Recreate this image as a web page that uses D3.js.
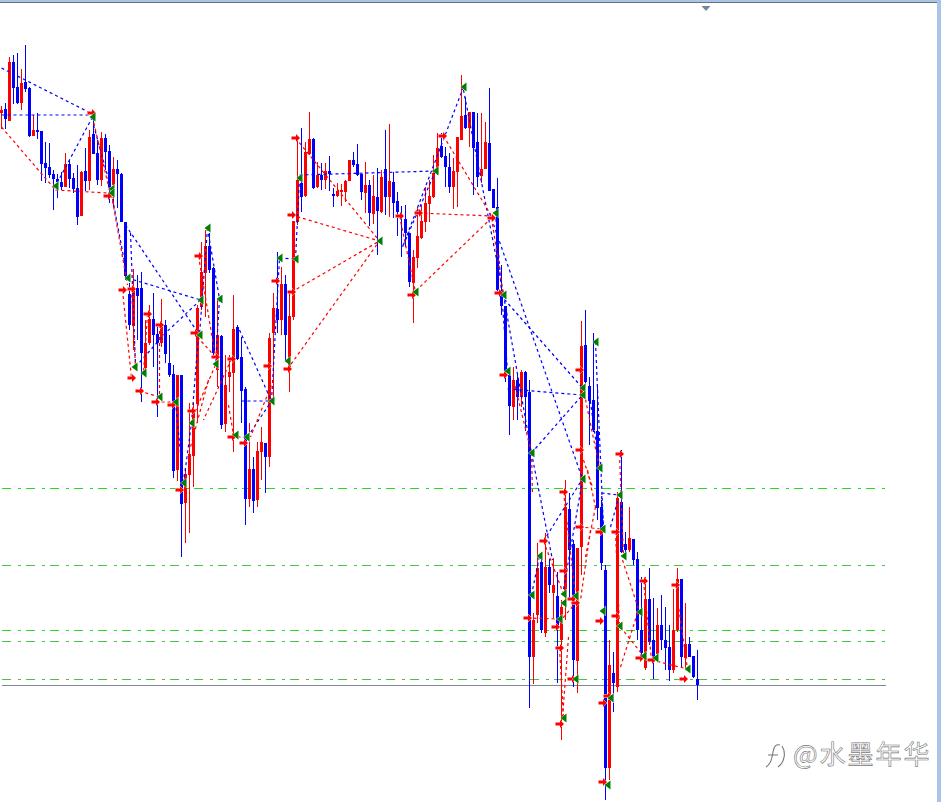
<!DOCTYPE html>
<html><head><meta charset="utf-8">
<script src="https://cdn.jsdelivr.net/npm/d3@7/dist/d3.min.js"></script>
<style>html,body{margin:0;padding:0;background:#fff;overflow:hidden}svg{display:block}</style>
</head><body><svg id="c" width="941" height="802"></svg>
<script>
// Bars: one bar every 4 time units, from time 0
const opens=[687,691,679,738,713,697,718,712,664,670,669,637,633,626,621,618,613,636,622,612,584,629,619,666,647,620,662,649,615,631,626,578,506,474,512,512,432,457,481,466,457,475,437,426,330,425,297,325,344,396,493,527,554,532,430,464,376,423,427,473,443,411,301,331,300,348,357,343,467,491,480,516,433,483,578,617,604,646,661,613,625,620,629,606,604,608,608,619,640,636,626,607,615,586,603,588,631,603,618,599,585,581,567,517,542,562,578,596,603,626,654,644,633,613,628,660,685,672,688,658,624,631,657,611,593,507,494,425,393,420,403,428,408,143,185,238,167,233,207,204,160,203,291,256,139,253,455,414,400,369,293,230,32,127,113,298,256,250,261,241,170,132,201,160,146,175,160,153,130,170,221,142,156,144,121];
const closes=[690,681,738,712,697,717,711,664,670,668,636,632,625,621,618,613,636,621,611,583,628,619,663,646,620,662,648,613,631,626,578,524,475,509,504,447,457,481,465,457,473,446,425,329,425,296,326,346,390,492,528,554,530,447,465,375,415,428,471,441,409,301,331,299,349,358,343,462,492,480,516,465,484,579,620,603,648,661,612,625,620,629,626,604,609,610,619,640,635,625,608,615,587,604,589,623,603,619,597,588,583,567,518,543,564,579,597,604,627,652,643,633,613,629,663,684,672,688,652,623,631,658,609,592,510,494,427,394,420,403,428,403,143,180,232,170,233,215,215,173,193,293,250,140,252,454,418,399,370,292,237,32,135,117,302,248,250,262,240,170,147,201,158,143,175,160,152,130,170,221,143,156,143,123,115];
const highs=[694,697,743,745,747,731,755,713,685,687,669,658,657,630,626,628,647,640,627,635,629,652,670,682,660,668,666,655,643,640,627,578,517,531,525,528,480,495,507,473,501,480,465,435,425,425,332,397,397,495,558,570,567,533,500,465,445,445,505,475,463,413,377,343,358,373,357,467,507,548,533,525,509,579,660,672,658,688,662,638,637,637,644,612,617,616,620,640,648,656,626,638,620,625,632,630,670,676,628,608,594,595,567,550,593,595,613,620,645,667,667,653,647,642,663,725,703,688,688,687,687,678,712,611,622,535,494,427,433,427,430,429,420,187,257,248,267,241,242,228,200,320,307,260,252,479,490,423,467,413,300,235,160,148,308,350,268,293,261,248,223,223,232,202,192,205,193,175,211,232,221,197,163,144,150];
const lows=[671,671,679,696,696,690,708,663,664,661,619,617,622,590,602,610,613,612,607,575,584,609,610,646,615,614,630,597,593,592,578,520,470,450,460,398,423,455,433,383,453,437,423,322,319,243,257,267,313,377,490,483,527,445,413,371,368,408,348,440,377,275,293,287,293,320,307,333,403,467,465,440,408,480,575,588,603,645,611,612,610,611,609,593,603,594,598,619,633,624,600,587,574,576,545,587,585,583,582,564,543,553,513,477,532,561,568,578,602,625,642,613,607,591,593,660,671,653,605,613,617,631,609,592,508,485,418,365,380,380,393,369,92,116,177,167,163,207,182,117,60,180,200,113,107,225,415,355,368,280,230,0,20,88,108,247,248,248,235,160,145,130,155,121,140,150,130,119,127,168,133,132,143,122,100];
// Reference levels
const brightLevels=[312,170];
const dullLevels=[235,159,121];
const baseLevel=115;
const levelSpan=[0,884];
// Trade markers: [time, price]
const redMarks=[[90,687],[106,604],[121,510],[130,511],[130,422],[138,409],[154,398],[170,395],[146,486],[158,475],[197,544],[193,467],[214,443],[230,441],[190,389],[266,434],[274,519],[286,431],[178,310],[230,363],[242,357],[294,662],[290,585],[290,508],[398,584],[418,587],[410,505],[441,664],[490,582],[497,507],[502,425],[578,430],[578,350],[618,346],[562,308],[542,259],[562,229],[578,273],[598,268],[614,268],[570,201],[574,197],[526,182],[554,173],[598,179],[614,184],[558,152],[570,121],[558,76],[606,104],[602,97],[602,18],[642,219],[674,215],[638,142],[650,140],[682,121]];
const greenMarks=[[54,614],[91,683],[110,611],[110,607],[126,522],[134,433],[142,427],[158,403],[174,398],[206,572],[199,500],[218,501],[198,465],[214,436],[270,399],[278,542],[286,439],[190,377],[182,317],[234,365],[246,363],[294,541],[298,622],[378,559],[414,508],[462,713],[434,629],[494,587],[502,505],[506,429],[581,412],[581,405],[594,458],[530,347],[581,321],[598,332],[538,244],[602,271],[618,305],[622,244],[530,205],[562,206],[562,197],[574,204],[558,181],[602,189],[618,174],[574,121],[562,82],[610,102],[606,15],[638,188],[642,144],[654,142],[686,131]];
// Trade links: [t1,p1,t2,p2]
const blueLinks=[[0,732,89,687],[0,685,89,685],[91,683,54,614],[92,675,110,610],[110,607,126,522],[124,575,198,465],[126,522,199,500],[199,500,164,467],[164,467,134,433],[129,567,134,435],[206,572,198,465],[206,572,218,501],[218,501,214,436],[238,470,270,399],[240,399,270,399],[246,363,270,399],[270,399,278,542],[174,398,182,317],[182,317,190,377],[190,377,197,465],[278,542,294,541],[294,541,298,622],[298,625,434,629],[462,713,401,553],[434,629,401,553],[462,710,502,505],[488,587,581,321],[499,505,581,412],[506,411,581,405],[530,347,581,405],[494,587,506,429],[502,505,530,347],[530,347,551,240],[542,259,581,321],[600,307,617,305],[602,271,600,307],[609,273,617,302],[594,458,602,271],[588,405,598,332],[561,205,581,320],[530,205,538,244]];
const redLinks=[[0,673,54,610],[54,610,106,607],[91,683,109,605],[110,605,126,515],[121,510,130,422],[130,511,134,433],[146,486,142,427],[158,475,158,403],[138,409,158,403],[154,398,174,398],[197,544,214,443],[214,435,190,380],[230,441,202,380],[207,420,189,353],[196,463,212,445],[227,395,232,365],[230,363,246,363],[272,420,249,363],[290,585,378,559],[290,508,378,559],[286,431,378,559],[294,662,378,559],[398,584,414,508],[410,505,490,582],[417,587,490,584],[442,664,490,584],[490,582,502,505],[512,420,530,347],[530,347,531,305],[578,430,598,332],[582,340,591,313],[586,330,594,293],[594,293,584,243],[578,273,602,271],[589,270,579,200],[562,308,574,204],[542,259,562,206],[526,182,558,181],[554,173,574,197],[558,152,562,82],[567,163,561,82],[570,121,574,121],[618,346,622,244],[621,240,638,188],[619,173,642,144],[619,133,636,187],[642,219,650,140],[650,140,686,131],[674,215,686,131],[614,268,618,174]];
const watermark="@水墨年华";

const BLUE="#0000ff",RED="#ff0000";
const x=d3.scaleLinear().domain([0,696]).range([1.5,697.5]);
const y=d3.scaleLinear().domain([0,800]).range([800,0]);
const svg=d3.select("#c");
// window frame
svg.append("rect").attr("x",0).attr("y",0).attr("width",941).attr("height",2).attr("fill","#a9c4e6");
svg.append("rect").attr("x",0).attr("y",2).attr("width",937).attr("height",1).attr("fill","#6c7278");
svg.append("rect").attr("x",937).attr("y",0).attr("width",4).attr("height",802).attr("fill","#a9c4e6");
svg.append("path").attr("d","M701.5,6H710.5L706,11Z").attr("fill","#6f8ba0");

const lv=svg.append("g").attr("shape-rendering","crispEdges");
function level(v,col,dash){
  lv.append("line").attr("x1",x(levelSpan[0])).attr("x2",x(levelSpan[1])).attr("y1",Math.floor(y(v))+.5).attr("y2",Math.floor(y(v))+.5)
    .attr("stroke",col).attr("stroke-dasharray",dash);
}
brightLevels.forEach(v=>level(v,"#22dd22","9 7 3 5"));
dullLevels.forEach(v=>level(v,"#44c644","9 7 3 5"));
level(baseLevel,"#7b8a96",null);

const idx=d3.range(opens.length);
const g=svg.append("g").attr("shape-rendering","crispEdges");
const col=i=>closes[i]>opens[i]?RED:BLUE;
g.selectAll("rect.w").data(idx).join("rect").attr("class","w")
  .attr("x",i=>x(i*4)-.5).attr("width",1)
  .attr("y",i=>y(highs[i])).attr("height",i=>y(lows[i])-y(highs[i])).attr("fill",col);
g.selectAll("rect.b").data(idx).join("rect").attr("class","b")
  .attr("x",i=>x(i*4)-1.5).attr("width",3)
  .attr("y",i=>y(Math.max(opens[i],closes[i]))).attr("height",i=>Math.max(1,Math.abs(opens[i]-closes[i]))).attr("fill",col);

function links(data,color){
  svg.append("g").selectAll("line").data(data).join("line")
    .attr("x1",d=>x(d[0])).attr("y1",d=>y(d[1])).attr("x2",d=>x(d[2])).attr("y2",d=>y(d[3]))
    .attr("stroke",color).attr("stroke-width",1.2).attr("stroke-dasharray","3 3");
}
links(blueLinks,BLUE);links(redLinks,RED);

svg.append("g").selectAll("path").data(redMarks).join("path")
  .attr("transform",d=>`translate(${Math.round(x(d[0]))},${Math.round(y(d[1]))})`)
  .attr("d","M-4.5,-1.5H0V-4L4,0L0,4V1.5H-4.5Z")
  .attr("fill",RED).attr("stroke","#fff").attr("stroke-width",.8).attr("paint-order","stroke");
svg.append("g").selectAll("path").data(greenMarks).join("path")
  .attr("transform",d=>`translate(${Math.round(x(d[0]))},${Math.round(y(d[1]))})`)
  .attr("d","M-3.5,0L2.5,-4.5V4.5Z")
  .attr("fill","#008000").attr("stroke","#fff").attr("stroke-width",.8).attr("paint-order","stroke");

// watermark
const wm=svg.append("g").attr("fill","none").attr("stroke","#777").attr("stroke-width",1.1);
wm.append("path").attr("d","M766,767C771,764 772,758 773,752C774,746 776,744 780,745M768,755H778M782,746C786,752 785,762 778,767");
svg.append("text").attr("x",793).attr("y",764).text(watermark)
  .attr("font-family","'Noto Sans CJK SC'").attr("font-size",26).attr("letter-spacing",2)
  .attr("fill","#fff").attr("stroke","#777").attr("stroke-width",.6);
</script></body></html>
